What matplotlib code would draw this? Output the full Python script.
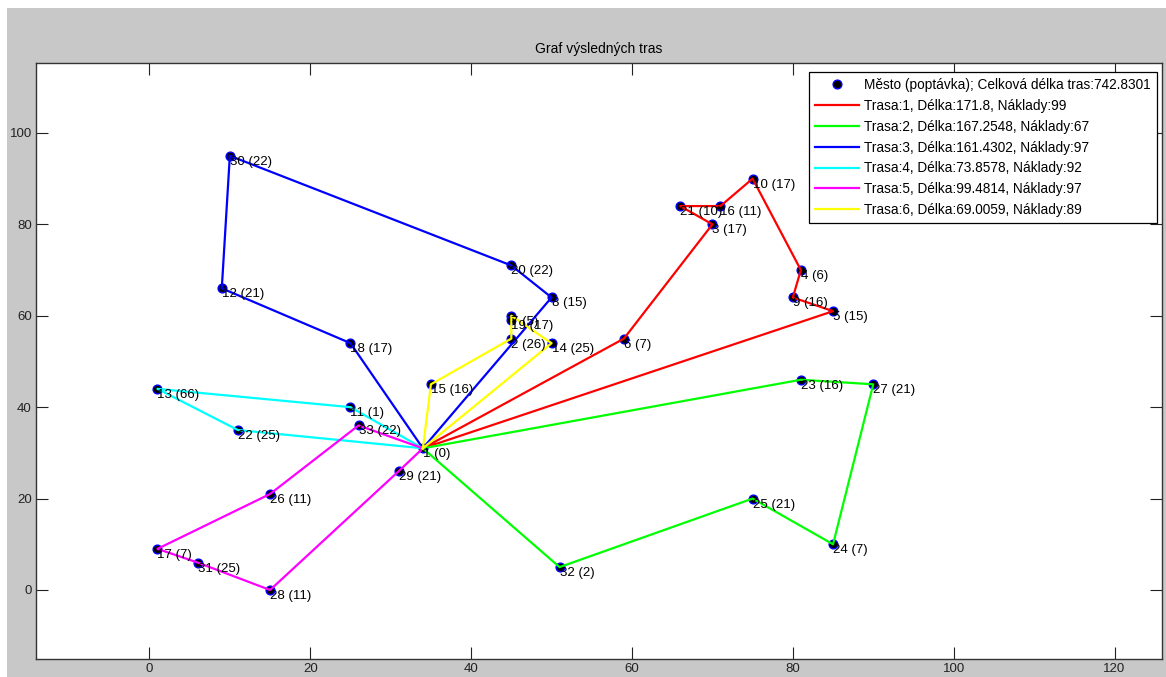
import matplotlib
matplotlib.use("Agg")
from matplotlib import pyplot as plt
from matplotlib.patches import Rectangle

plt.rcParams['font.family'] = ['Liberation Sans', 'DejaVu Sans']

# cities: id, coordinates, demand
city_id = list(range(1, 34))
city_x = [34, 45, 70, 81, 85, 59, 45, 50, 80, 75, 25, 9, 1, 50, 35, 71, 1,
          25, 45, 45, 66, 11, 81, 85, 75, 15, 90, 15, 31, 10, 6, 51, 26]
city_y = [31, 55, 80, 70, 61, 55, 60, 64, 64, 90, 40, 66, 44, 54, 45, 84, 9,
          54, 59, 71, 84, 35, 46, 10, 20, 21, 45, 0, 26, 95, 6, 5, 36]
demand = [0, 26, 17, 6, 15, 7, 5, 15, 16, 17, 1, 21, 66, 25, 16, 11, 7,
          17, 17, 22, 10, 25, 16, 7, 21, 11, 21, 11, 21, 22, 25, 2, 22]

# routes (city ids) with reported length and load
routes = [
    [1, 6, 3, 21, 16, 10, 4, 9, 5, 1],
    [1, 23, 27, 24, 25, 32, 1],
    [1, 18, 12, 30, 20, 8, 1],
    [1, 11, 13, 22, 1],
    [1, 33, 26, 17, 31, 28, 29, 1],
    [1, 15, 2, 19, 7, 14, 1],
]
route_len = ['171.8', '167.2548', '161.4302', '73.8578', '99.4814', '69.0059']
route_cost = [99, 67, 97, 92, 97, 89]
route_colors = ['#ff0000', '#00ff00', '#0000ff', '#00ffff', '#ff00ff', '#ffff00']
total_len = '742.8301'

W, H = 1166, 677
fig = plt.figure(figsize=(W / 100, H / 100), dpi=100, facecolor='white')
fig.patches.append(Rectangle((7 / W, 0), 1, 1 - 8 / H, transform=fig.transFigure,
                             facecolor='#c8c8c8', edgecolor='none', zorder=-10))
ax = fig.add_axes([36 / W, (H - 659) / H, (1162 - 36) / W, (659 - 63) / H])
ax.set_facecolor('white')

ax.plot(city_x, city_y, 'o', ms=6.3, mfc='black', mec='#0000ff', mew=1.0,
        ls='none', zorder=2,
        label='Město (poptávka); Celková délka tras:' + total_len)

for i, r in enumerate(routes):
    xs = [city_x[c - 1] for c in r]
    ys = [city_y[c - 1] for c in r]
    ax.plot(xs, ys, '-', color=route_colors[i], lw=1.6, zorder=3,
            label='Trasa:{}, Délka:{}, Náklady:{}'.format(i + 1, route_len[i], route_cost[i]))

for c, x, y, d in zip(city_id, city_x, city_y, demand):
    ax.text(x, y - 1.3, '{} ({})'.format(c, d), fontsize=9.5, ha='left', va='center',
            color='black', zorder=4)

ax.set_xlim(-14.1, 125.9)
ax.set_ylim(-15.1, 115.3)
ax.set_xticks(range(0, 121, 20))
ax.set_yticks(range(0, 101, 20))
ax.tick_params(direction='in', length=8.5, width=0.8, top=True, right=True,
               labelsize=9.5, pad=3, colors='#222222')
for s in ax.spines.values():
    s.set_color('#333333')
    s.set_linewidth(1.0)

ax.set_title('Graf výsledných tras', fontsize=10, pad=7)

leg = ax.legend(loc='upper right', bbox_to_anchor=(1 - 5 / 1126, 1 - 9 / 596),
                borderaxespad=0, fontsize=9.8, fancybox=False, framealpha=1,
                edgecolor='black', handlelength=3.2, handletextpad=0.4,
                labelspacing=0.5, borderpad=0.45)
leg.get_frame().set_linewidth(0.9)

fig.savefig('out.png', dpi=100)
